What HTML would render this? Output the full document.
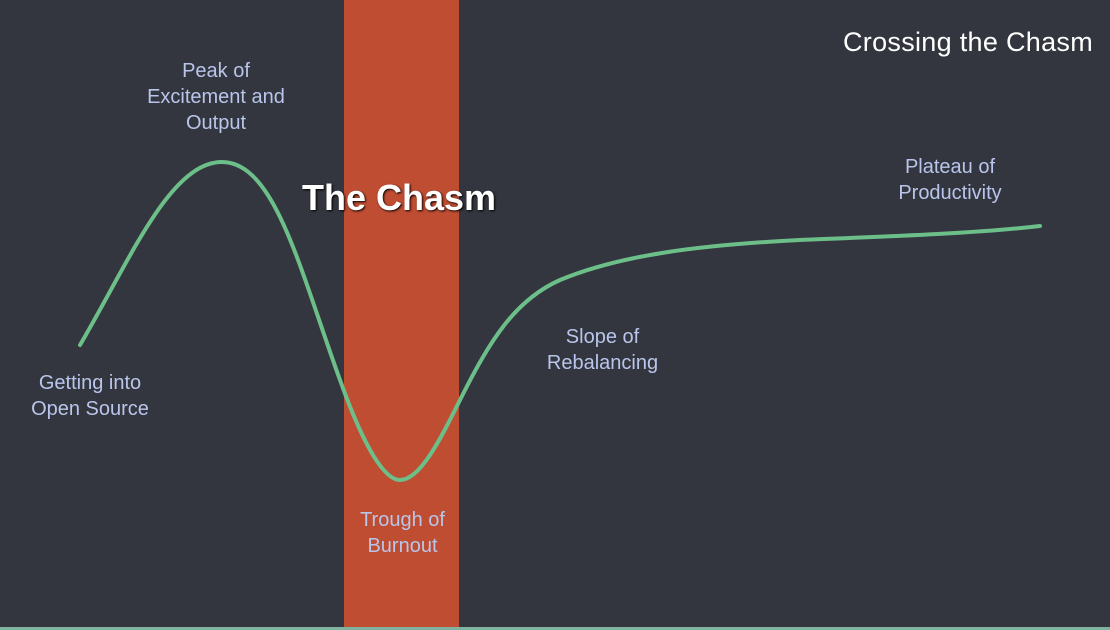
<!DOCTYPE html>
<html><head><style>
html,body{margin:0;padding:0}
body{width:1110px;height:630px;background:#33363f;position:relative;overflow:hidden;font-family:"Liberation Sans",sans-serif}
.bar{position:absolute;left:344px;top:0;width:115px;height:627px;background:#bf4d32}
.strip{position:absolute;left:0;top:627px;width:1110px;height:3px;background:#7fb3a0}
.l{position:absolute;color:#b9c5ea;font-size:20px;line-height:26px;text-align:center;white-space:nowrap}
</style></head><body>
<div class="bar"></div>
<div class="strip"></div>
<svg width="1110" height="630" style="position:absolute;left:0;top:0">
<path d="M80,345 C130,260 170,162 222,162 C275,162 300,270 340,380 C365,450 385,480 400,480 C420,480 440,440 460,400 C490,340 515,300 560,280 C620,255 700,245 800,240 C900,236 980,233 1040,226" fill="none" stroke="#6dbf8a" stroke-width="4" stroke-linecap="round"/>
</svg>
<div class="l" style="left:140px;top:58px;width:152px">Peak of<br>Excitement and<br>Output</div>
<div class="l" style="left:20px;top:370px;width:140px">Getting into<br>Open Source</div>
<div class="l" style="left:340px;top:507px;width:125px">Trough of<br>Burnout</div>
<div class="l" style="left:535px;top:324px;width:135px">Slope of<br>Rebalancing</div>
<div class="l" style="left:880px;top:154px;width:140px">Plateau of<br>Productivity</div>
<div style="position:absolute;left:300px;top:177px;width:198px;text-align:center;color:#fff;font-weight:bold;font-size:36px;line-height:42px;text-shadow:1px 1px 2px #000">The Chasm</div>
<div style="position:absolute;left:843px;top:25px;color:#fff;font-size:27px;line-height:34px;white-space:nowrap;letter-spacing:0.3px">Crossing the Chasm</div>
</body></html>
